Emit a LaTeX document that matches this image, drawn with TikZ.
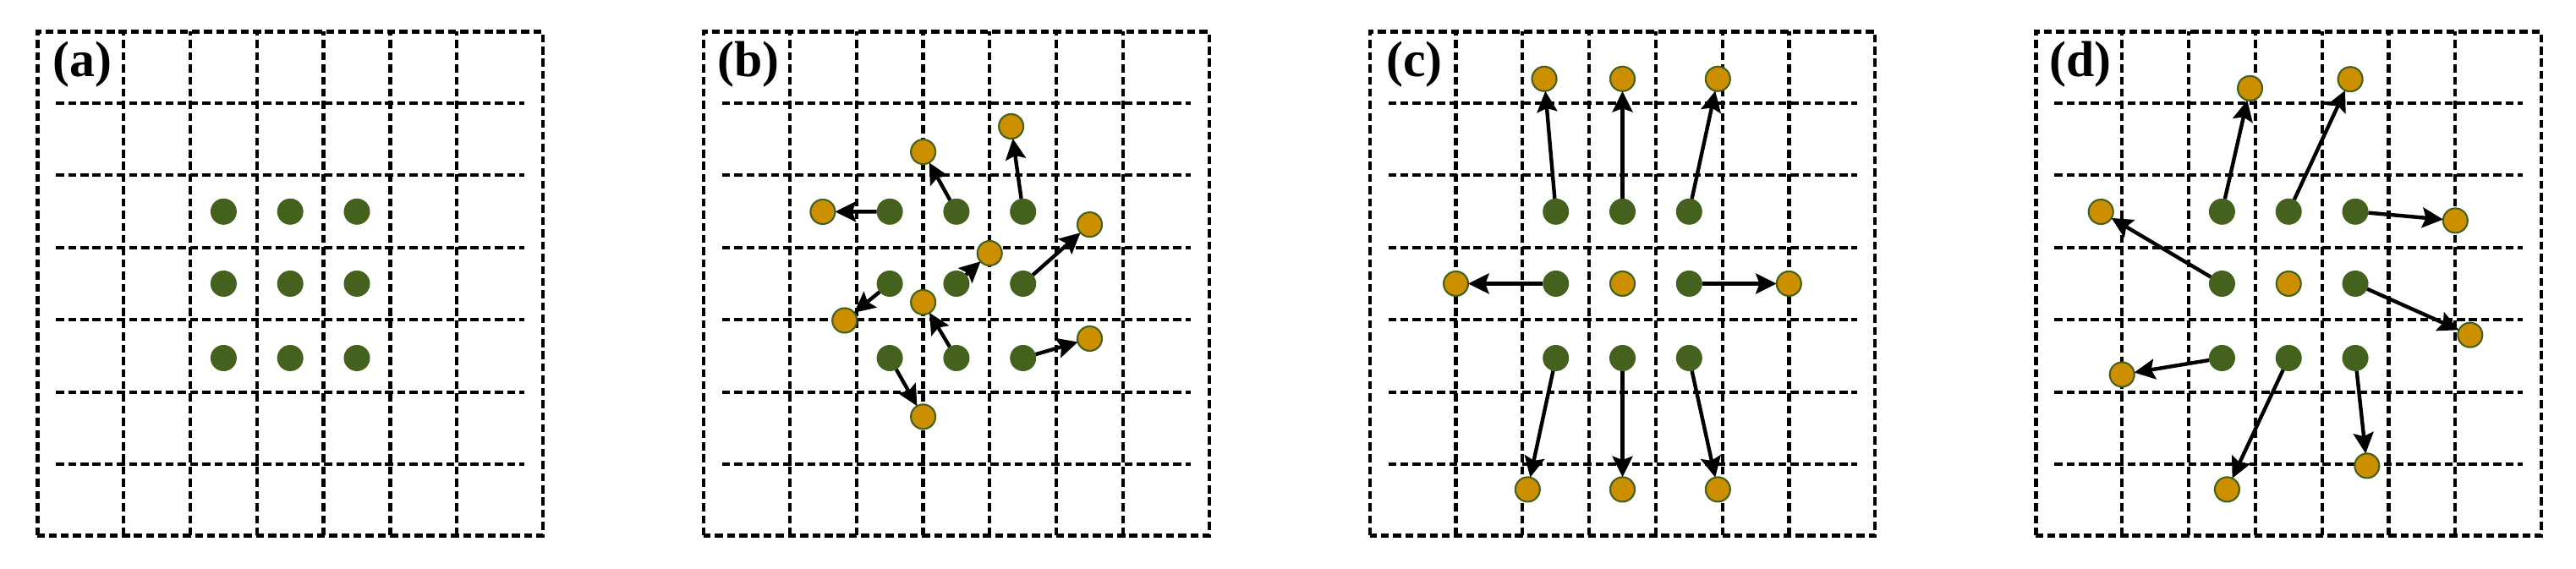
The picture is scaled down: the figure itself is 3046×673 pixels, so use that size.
\documentclass[tikz,border=0pt]{standalone}
\usepackage{fontspec}
\setmainfont{Liberation Serif}
\usetikzlibrary{arrows.meta}
\definecolor{dotgreen}{RGB}{68,97,30}
\definecolor{dotorange}{RGB}{204,143,0}
\newcommand{\mypanelgrid}{%
  \draw[gridline] (-298.8,-298) rectangle (298.8,298);
  \foreach \x in {-197,-118.2,-39.4,39.4,118.2,197} \draw[gridline] (\x,-298) -- (\x,298);
  \foreach \y in {-213.75,-128.25,-42.75,42.75,128.25,213.75} \draw[gridline] (-277,\y) -- (277,\y);
}
\begin{document}
\begin{tikzpicture}[x=0.01cm,y=0.01cm,
  gridline/.style={line width=1.2pt, dash pattern=on 2.7pt off 1.4pt},
  gdot/.style={circle, fill=dotgreen, minimum size=0.31cm, inner sep=0pt, outer sep=0pt},
  odot/.style={circle, fill=dotorange, draw=dotgreen, line width=0.6pt, minimum size=0.29cm, inner sep=0pt, outer sep=0pt},
  mv/.style={-{Stealth[length=7pt,width=6.8pt,inset=1.2pt]}, line width=1.25pt},
  lbl/.style={font=\bfseries\fontsize{17}{17}\selectfont, inner sep=0pt}]
\useasboundingbox (0,0) rectangle (3046,673);
% ---------- panel (a)
\begin{scope}[shift={(343.2,337.5)}]
  \mypanelgrid
  \node[lbl] (la) at (-246,259.5) {(a)};
  \node[gdot] (a11) at (-78.8,85.2) {};
  \node[gdot] (a21) at (0,85.2) {};
  \node[gdot] (a31) at (78.8,85.2) {};
  \node[gdot] (a12) at (-78.8,0) {};
  \node[gdot] (a22) at (0,0) {};
  \node[gdot] (a32) at (78.8,0) {};
  \node[gdot] (a13) at (-78.8,-88) {};
  \node[gdot] (a23) at (0,-88) {};
  \node[gdot] (a33) at (78.8,-88) {};
\end{scope}
% ---------- panel (b)
\begin{scope}[shift={(1130.9,337.5)}]
  \mypanelgrid
  \node[lbl] (lb) at (-246,259.5) {(b)};
  \node[gdot] (b11) at (-78.8,85.2) {};
  \node[gdot] (b21) at (0,85.2) {};
  \node[gdot] (b31) at (78.8,85.2) {};
  \node[gdot] (b12) at (-78.8,0) {};
  \node[gdot] (b22) at (0,0) {};
  \node[gdot] (b32) at (78.8,0) {};
  \node[gdot] (b13) at (-78.8,-88) {};
  \node[gdot] (b23) at (0,-88) {};
  \node[gdot] (b33) at (78.8,-88) {};
  \node[odot] (bo1) at (-158,85) {};
  \node[odot] (bo2) at (-39.3,155.9) {};
  \node[odot] (bo3) at (64.7,186) {};
  \node[odot] (bo4) at (157.6,69.9) {};
  \node[odot] (bo5) at (39.3,36) {};
  \node[odot] (bo6) at (-132.2,-43.5) {};
  \node[odot] (bo7) at (-39.3,-22) {};
  \node[odot] (bo8) at (157.6,-65) {};
  \node[odot] (bo9) at (-39.3,-157.4) {};
  \draw[mv] (b11) -- (bo1);
  \draw[mv] (b21) -- (bo2);
  \draw[mv] (b31) -- (bo3);
  \draw[mv] (b32) -- (bo4);
  \draw[mv] (b22) -- (bo5);
  \draw[mv] (b12) -- (bo6);
  \draw[mv] (b23) -- (bo7);
  \draw[mv] (b33) -- (bo8);
  \draw[mv] (b13) -- (bo9);
\end{scope}
% ---------- panel (c)
\begin{scope}[shift={(1918.5,337.5)}]
  \mypanelgrid
  \node[lbl] (lc) at (-246,259.5) {(c)};
  \node[gdot] (c11) at (-78.8,85.2) {};
  \node[gdot] (c21) at (0,85.2) {};
  \node[gdot] (c31) at (78.8,85.2) {};
  \node[gdot] (c12) at (-78.8,0) {};
  \node[odot] (c22) at (0,0) {};
  \node[gdot] (c32) at (78.8,0) {};
  \node[gdot] (c13) at (-78.8,-88) {};
  \node[gdot] (c23) at (0,-88) {};
  \node[gdot] (c33) at (78.8,-88) {};
  \node[odot] (co1) at (-92.5,242.2) {};
  \node[odot] (co2) at (0,242.2) {};
  \node[odot] (co3) at (112.8,242.2) {};
  \node[odot] (co4) at (-197,0) {};
  \node[odot] (co5) at (196.8,0) {};
  \node[odot] (co6) at (-112.2,-243.4) {};
  \node[odot] (co7) at (0,-243.4) {};
  \node[odot] (co8) at (112.8,-243.4) {};
  \draw[mv] (c11) -- (co1);
  \draw[mv] (c21) -- (co2);
  \draw[mv] (c31) -- (co3);
  \draw[mv] (c12) -- (co4);
  \draw[mv] (c32) -- (co5);
  \draw[mv] (c13) -- (co6);
  \draw[mv] (c23) -- (co7);
  \draw[mv] (c33) -- (co8);
\end{scope}
% ---------- panel (d)
\begin{scope}[shift={(2706.2,337.5)}]
  \mypanelgrid
  \node[lbl] (ld) at (-246,259.5) {(d)};
  \node[gdot] (d11) at (-78.8,85.2) {};
  \node[gdot] (d21) at (0,85.2) {};
  \node[gdot] (d31) at (78.8,85.2) {};
  \node[gdot] (d12) at (-78.8,0) {};
  \node[odot] (d22) at (0,0) {};
  \node[gdot] (d32) at (78.8,0) {};
  \node[gdot] (d13) at (-78.8,-88) {};
  \node[gdot] (d23) at (0,-88) {};
  \node[gdot] (d33) at (78.8,-88) {};
  \node[odot] (do1) at (-45.7,231.1) {};
  \node[odot] (do2) at (72.9,241.8) {};
  \node[odot] (do3) at (197.1,74.6) {};
  \node[odot] (do4) at (-222,85) {};
  \node[odot] (do5) at (214.6,-60.7) {};
  \node[odot] (do6) at (-197,-107.5) {};
  \node[odot] (do7) at (-72.8,-243.4) {};
  \node[odot] (do8) at (92.6,-215.4) {};
  \draw[mv] (d11) -- (do1);
  \draw[mv] (d21) -- (do2);
  \draw[mv] (d31) -- (do3);
  \draw[mv] (d12) -- (do4);
  \draw[mv] (d32) -- (do5);
  \draw[mv] (d13) -- (do6);
  \draw[mv] (d23) -- (do7);
  \draw[mv] (d33) -- (do8);
\end{scope}
\end{tikzpicture}
\end{document}
